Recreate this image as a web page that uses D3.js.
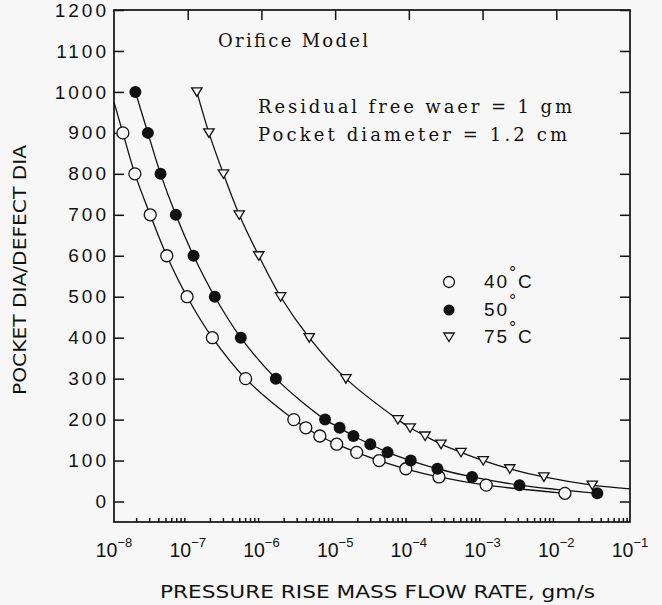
<!DOCTYPE html>
<html>
<head>
<meta charset="utf-8">
<script src="https://cdn.jsdelivr.net/npm/d3@7"></script>
<style>
  html, body { margin: 0; padding: 0; background: #f7f7f7; }
  svg { display: block; }
  .tick line { stroke: #111; stroke-width: 1.5px; }
  .domain { display: none; }
</style>
</head>
<body>
<div class="d3"></div>
<script>
// tick values
var yTicks = [0, 100, 200, 300, 400, 500, 600, 700, 800, 900, 1000, 1100, 1200];
var xDecades = [-8, -7, -6, -5, -4, -3, -2, -1];

// 40 C (open circles)
var ratio40 = [900, 800, 700, 600, 500, 400, 300, 200, 180, 160, 140, 120, 100, 80, 60, 40, 20];
var flow40 = [1.32e-8, 1.92e-8, 3.1e-8, 5.2e-8, 9.8e-8, 2.16e-7, 6.1e-7, 2.75e-6, 4.0e-6, 6.2e-6,
              1.05e-5, 1.96e-5, 3.95e-5, 9.1e-5, 2.56e-4, 1.12e-3, 1.31e-2];

// 50 C (filled circles)
var ratio50 = [1000, 900, 800, 700, 600, 500, 400, 300, 200, 180, 160, 140, 120, 100, 80, 60, 40, 20];
var flow50 = [1.95e-8, 2.88e-8, 4.28e-8, 6.9e-8, 1.2e-7, 2.33e-7, 5.25e-7, 1.57e-6, 7.3e-6, 1.15e-5,
              1.77e-5, 3.0e-5, 5.14e-5, 1.06e-4, 2.44e-4, 7.2e-4, 3.17e-3, 3.6e-2];

// 75 C (open triangles)
var ratio75 = [1000, 900, 800, 700, 600, 500, 400, 300, 200, 180, 160, 140, 120, 100, 80, 60, 40];
var flow75 = [1.33e-7, 1.94e-7, 3.05e-7, 5.0e-7, 9.2e-7, 1.82e-6, 4.45e-6, 1.4e-5, 7.1e-5, 1.04e-4,
              1.66e-4, 2.73e-4, 5.1e-4, 1.02e-3, 2.34e-3, 6.8e-3, 3.08e-2];

// where the fitted curves run on past the data, up to the frame
var curveStart40 = [1e-8, 975];
var curveEnd75 = [1e-1, 31];

var ink = "#111",
    paper = "#f7f7f7";

var width = 662, height = 605,
    plotL = 114, plotR = 630, plotT = 10, plotB = 522;

var svg = d3.select(".d3").append("svg")
    .attr("width", width)
    .attr("height", height);

var x = d3.scaleLog()
    .domain([1e-8, 1e-1])
    .range([plotL, plotR]);

var y = d3.scaleLinear()
    .domain([-50, 1200])
    .range([plotB, plotT]);

// minor ticks 2..9 in every decade on the bottom axis
var minor = [];
xDecades.slice(0, -1).forEach(function(e) {
  for (var k = 2; k <= 9; k++) minor.push(k * Math.pow(10, e));
});

svg.append("g")
    .attr("transform", "translate(0," + plotB + ")")
    .call(d3.axisBottom(x).tickValues(minor).tickSize(-4).tickFormat(""));

svg.append("g")
    .attr("transform", "translate(0," + plotT + ")")
    .call(d3.axisTop(x).tickValues(xDecades.slice(1, -1).map(function(e) { return Math.pow(10, e); }))
      .tickSize(-10).tickFormat(""));

svg.append("g")
    .attr("class", "y axis")
    .attr("transform", "translate(" + plotL + ",0)")
    .call(d3.axisLeft(y).tickValues(yTicks).tickSize(-10).tickPadding(5).tickFormat(d3.format("d")));

svg.append("g")
    .attr("transform", "translate(" + plotR + ",0)")
    .call(d3.axisRight(y).tickValues(yTicks).tickSize(-10).tickFormat(""));

svg.selectAll(".y.axis text")
    .attr("font-family", "Liberation Sans, Arial, sans-serif")
    .attr("font-size", 19)
    .attr("letter-spacing", "3px")
    .attr("fill", ink);

// frame
svg.append("rect")
    .attr("x", plotL)
    .attr("y", plotT)
    .attr("width", plotR - plotL)
    .attr("height", plotB - plotT)
    .attr("fill", "none")
    .attr("stroke", ink)
    .attr("stroke-width", 1.7);

// x labels as 10^n
var xl = svg.selectAll(".xlab")
    .data(xDecades)
  .enter().append("text")
    .attr("class", "xlab")
    .attr("x", function(d) { return x(Math.pow(10, d)); })
    .attr("y", plotB + 35)
    .attr("text-anchor", "middle")
    .attr("font-family", "Liberation Sans, Arial, sans-serif")
    .attr("font-size", 19.5)
    .attr("fill", ink);
xl.append("tspan").text("10");
xl.append("tspan")
    .attr("dy", -10)
    .attr("font-size", 13)
    .text(function(d) { return "\u2212" + (-d); });

// axis titles
svg.append("text")
    .attr("x", 160)
    .attr("y", 598)
    .attr("textLength", 435)
    .attr("lengthAdjust", "spacingAndGlyphs")
    .attr("font-family", "DejaVu Sans, sans-serif")
    .attr("font-size", 17)
    .attr("fill", ink)
    .text("PRESSURE RISE MASS FLOW RATE, gm/s");

svg.append("text")
    .attr("transform", "translate(26,395) rotate(-90)")
    .attr("textLength", 250)
    .attr("lengthAdjust", "spacingAndGlyphs")
    .attr("font-family", "DejaVu Sans, sans-serif")
    .attr("font-size", 18)
    .attr("fill", ink)
    .text("POCKET DIA/DEFECT DIA");

// notes
var notes = [
  {t: "Orifice Model", x: 218, y: 47, w: 150},
  {t: "Residual free waer = 1 gm", x: 258, y: 113, w: 314},
  {t: "Pocket diameter = 1.2 cm", x: 258, y: 141, w: 309}
];
svg.selectAll(".note")
    .data(notes)
  .enter().append("text")
    .attr("class", "note")
    .attr("x", function(d) { return d.x; })
    .attr("y", function(d) { return d.y; })
    .attr("textLength", function(d) { return d.w; })
    .attr("lengthAdjust", "spacing")
    .attr("font-family", "DejaVu Serif, serif")
    .attr("font-size", 18)
    .attr("fill", ink)
    .text(function(d) { return d.t; });

// curves
var line = d3.line()
    .x(function(d) { return x(d[0]); })
    .y(function(d) { return y(d[1]); })
    .curve(d3.curveCatmullRom.alpha(0.5));

var pts40 = d3.zip(flow40, ratio40),
    pts50 = d3.zip(flow50, ratio50),
    pts75 = d3.zip(flow75, ratio75);

[[curveStart40].concat(pts40), pts50, pts75.concat([curveEnd75])].forEach(function(p) {
  svg.append("path")
      .datum(p)
      .attr("d", line)
      .attr("fill", "none")
      .attr("stroke", ink)
      .attr("stroke-width", 1.3);
});

// markers
var tri = "M-5.2,-4L5.2,-4L0,4.5Z";

svg.selectAll(".c40")
    .data(pts40)
  .enter().append("circle")
    .attr("cx", function(d) { return x(d[0]); })
    .attr("cy", function(d) { return y(d[1]); })
    .attr("r", 6)
    .attr("fill", paper)
    .attr("stroke", ink)
    .attr("stroke-width", 1.3);

svg.selectAll(".c50")
    .data(pts50)
  .enter().append("circle")
    .attr("cx", function(d) { return x(d[0]); })
    .attr("cy", function(d) { return y(d[1]); })
    .attr("r", 6)
    .attr("fill", ink);

svg.selectAll(".t75")
    .data(pts75)
  .enter().append("path")
    .attr("d", tri)
    .attr("transform", function(d) { return "translate(" + x(d[0]) + "," + y(d[1]) + ")"; })
    .attr("fill", paper)
    .attr("stroke", ink)
    .attr("stroke-width", 1.3);

// legend
var legend = [
  {k: "40", c: "C", y: 282},
  {k: "50", c: "", y: 310},
  {k: "75", c: "C", y: 337}
];

var lg = svg.selectAll(".lg")
    .data(legend)
  .enter().append("g")
    .attr("transform", function(d) { return "translate(449," + d.y + ")"; });

lg.each(function(d, i) {
  var g = d3.select(this);
  if (i == 0) g.append("circle").attr("r", 5.5).attr("fill", paper).attr("stroke", ink).attr("stroke-width", 1.3);
  if (i == 1) g.append("circle").attr("r", 5.5).attr("fill", ink);
  if (i == 2) g.append("path").attr("d", tri).attr("fill", paper).attr("stroke", ink).attr("stroke-width", 1.3);

  var t = g.append("text")
      .attr("x", 35)
      .attr("y", 6)
      .attr("font-family", "Liberation Sans, Arial, sans-serif")
      .attr("font-size", 19)
      .attr("letter-spacing", "2px")
      .attr("fill", ink);
  t.append("tspan").text(d.k);
  t.append("tspan").attr("dy", -10).attr("font-size", 17).text("\u00b0");
  t.append("tspan").attr("dy", 10).text(d.c);
});
</script>
</body>
</html>
